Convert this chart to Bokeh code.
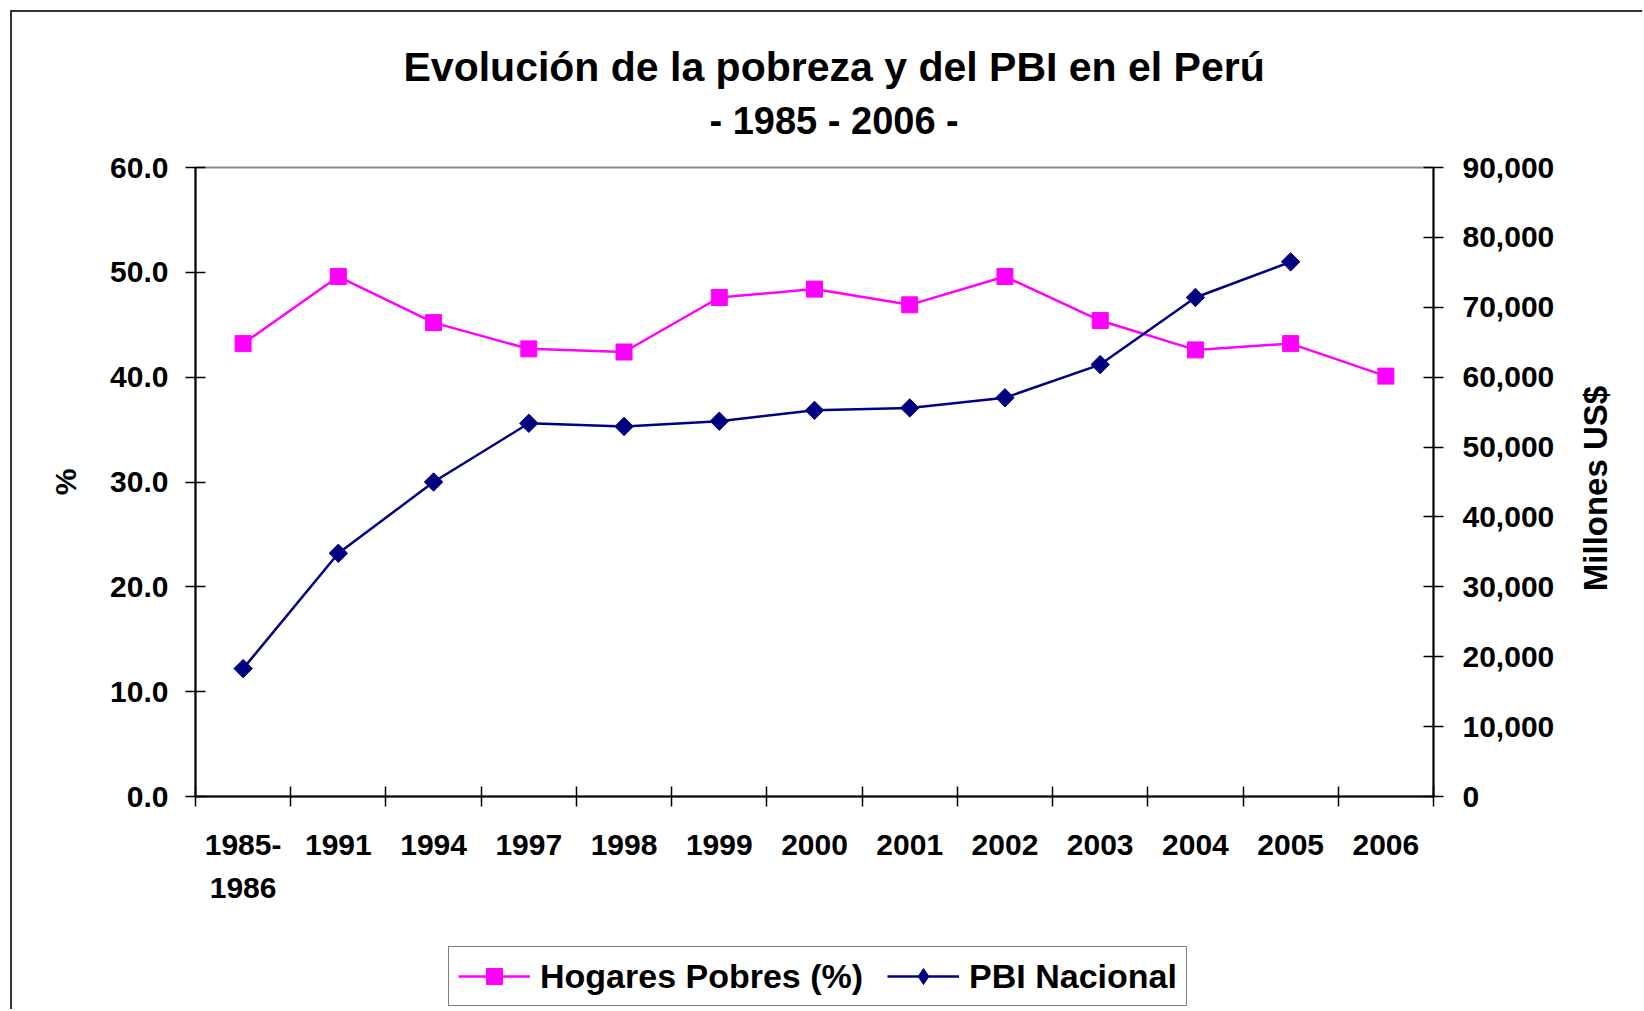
import math
from bokeh.plotting import figure
from bokeh.layouts import column, row
from bokeh.models import (Range1d, LinearAxis, FixedTicker, NumeralTickFormatter,
                          Legend, LegendItem, Title, Label, ColumnDataSource)
from bokeh.embed import file_html
from bokeh.resources import INLINE

# ---- data ----
categories = ["1985-\n1986", "1991", "1994", "1997", "1998", "1999", "2000",
              "2001", "2002", "2003", "2004", "2005", "2006"]
hogares_pobres = [43.2, 49.6, 45.2, 42.7, 42.4, 47.6, 48.4, 46.9, 49.6, 45.4, 42.6, 43.2, 40.1]
pbi_nacional = [18300, 34800, 45000, 53400, 52950, 53700, 55250, 55600, 57050, 61800, 71400, 76500, None]
left_ticks = [0, 10, 20, 30, 40, 50, 60]
right_ticks = [0, 10000, 20000, 30000, 40000, 50000, 60000, 70000, 80000, 90000]
series_names = ["Hogares Pobres (%)", "PBI Nacional"]
right_title = "Millones US$"

FONT = "Liberation Sans"
TICK_SIZE = "30px"
MAGENTA = "#FF00FF"
NAVY = "#000080"
BORDER = "2px solid #333333"

xs = [i + 0.5 for i in range(len(categories))]
src_hp = ColumnDataSource(dict(x=xs, y=hogares_pobres))
pbi_x = [x for x, v in zip(xs, pbi_nacional) if v is not None]
pbi_y = [v for v in pbi_nacional if v is not None]
src_pbi = ColumnDataSource(dict(x=pbi_x, y=pbi_y))

WP, W3, W2 = 1563, 69, 1632
H1, H2 = 923, 76
TOP, BOTTOM, LEFT = 155, H1 - 784, 183

p = figure(width=WP, height=H1, x_range=Range1d(0, len(categories)),
           y_range=Range1d(left_ticks[0], left_ticks[-1]),
           output_backend="svg", toolbar_location=None, title=None,
           x_axis_location=None, y_axis_location=None,
           min_border_left=LEFT, min_border_right=142,
           min_border_top=TOP, min_border_bottom=BOTTOM,
           styles={"margin-left": "10px", "margin-top": "10px",
                   "border-left": BORDER, "border-top": BORDER})
p.extra_y_ranges = {"pbi": Range1d(right_ticks[0], right_ticks[-1])}
p.xgrid.visible = False
p.ygrid.visible = False
p.outline_line_color = "#8c8c8c"
p.outline_line_width = 2
p.background_fill_color = "white"
p.border_fill_color = "white"

# x axis: labels at band centres, ticks at band boundaries
xaxis = LinearAxis(
    ticker=FixedTicker(ticks=xs, minor_ticks=list(range(len(categories) + 1))),
    major_label_overrides={x: c for x, c in zip(xs, categories)},
    major_tick_in=0, major_tick_out=0,
    minor_tick_in=10, minor_tick_out=10,
    minor_tick_line_color="black", minor_tick_line_width=1.5,
    axis_line_color="black", axis_line_width=2,
    major_label_standoff=21,
    major_label_text_font=FONT, major_label_text_font_style="bold",
    major_label_text_font_size=TICK_SIZE, major_label_text_color="black",
    major_label_text_line_height=1.33,
)
p.add_layout(xaxis, "below")

yaxis = LinearAxis(
    ticker=FixedTicker(ticks=left_ticks),
    formatter=NumeralTickFormatter(format="0.0"),
    axis_label="%",
    axis_label_text_font=FONT, axis_label_text_font_style="bold",
    axis_label_text_font_size="30px", axis_label_text_color="black",
    axis_label_standoff=25,
    major_tick_in=10, major_tick_out=10,
    major_tick_line_color="black", major_tick_line_width=1.5,
    minor_tick_line_color=None,
    axis_line_color="black", axis_line_width=2,
    major_label_standoff=17,
    major_label_text_font=FONT, major_label_text_font_style="bold",
    major_label_text_font_size=TICK_SIZE, major_label_text_color="black",
)
p.add_layout(yaxis, "left")

raxis = LinearAxis(
    y_range_name="pbi",
    ticker=FixedTicker(ticks=right_ticks),
    formatter=NumeralTickFormatter(format="0,0"),
    major_tick_in=10, major_tick_out=10,
    major_tick_line_color="black", major_tick_line_width=1.5,
    minor_tick_line_color=None,
    axis_line_color="black", axis_line_width=2,
    major_label_standoff=19,
    major_label_text_font=FONT, major_label_text_font_style="bold",
    major_label_text_font_size=TICK_SIZE, major_label_text_color="black",
)
p.add_layout(raxis, "right")

# titles (subtitle first = nearest to the frame)
p.add_layout(Title(text="- 1985 - 2006 -", align="left", offset=514,
                   text_font=FONT, text_font_style="bold", text_font_size="38px",
                   text_color="black", standoff=51), "above")
p.add_layout(Title(text="Evolución de la pobreza y del PBI en el Perú", align="left",
                   offset=208, text_font=FONT, text_font_style="bold",
                   text_font_size="41px", text_color="black", standoff=-34), "above")

# series
l1 = p.line("x", "y", source=src_hp, line_color=MAGENTA, line_width=2.5)
s1 = p.scatter("x", "y", source=src_hp, marker="square", size=16,
               fill_color=MAGENTA, line_color=MAGENTA)
l2 = p.line("x", "y", source=src_pbi, y_range_name="pbi", line_color=NAVY, line_width=2.5)
s2 = p.scatter("x", "y", source=src_pbi, y_range_name="pbi", marker="square",
               angle=math.pi / 4, size=13, fill_color=NAVY, line_color=NAVY)

# right strip holding the secondary axis title (reads bottom to top)
p3 = figure(width=W3, height=H1, x_range=Range1d(0, 1), y_range=Range1d(0, 1),
            output_backend="svg", toolbar_location=None, title=None,
            x_axis_location=None, y_axis_location=None,
            min_border_left=0, min_border_right=0,
            min_border_top=TOP, min_border_bottom=BOTTOM,
            styles={"margin-top": "10px", "border-top": BORDER})
p3.xgrid.visible = False
p3.ygrid.visible = False
p3.outline_line_color = None
p3.background_fill_color = "white"
p3.border_fill_color = "white"
p3.add_layout(Label(x=22, y=308, x_units="screen", y_units="screen",
                    text=right_title, angle=math.pi / 2,
                    text_align="center", text_baseline="middle",
                    text_font=FONT, text_font_style="bold",
                    text_font_size="33px", text_color="black"))

# legend strip below the chart; same series drawn out of view so only the legend shows
p2 = figure(width=W2, height=H2, x_range=Range1d(-3, -2), y_range=Range1d(0, 1),
            output_backend="svg", toolbar_location=None, title=None,
            x_axis_location=None, y_axis_location=None,
            min_border_left=LEFT, min_border_right=0, min_border_top=0, min_border_bottom=0,
            styles={"margin-left": "10px", "border-left": BORDER})
p2.xgrid.visible = False
p2.ygrid.visible = False
p2.outline_line_color = None
p2.background_fill_color = "white"
p2.border_fill_color = "white"
g1 = p2.line("x", "y", source=src_hp, line_color=MAGENTA, line_width=2.5)
g1m = p2.scatter("x", "y", source=src_hp, marker="square",
                 fill_color=MAGENTA, line_color=MAGENTA)
g2 = p2.line("x", "y", source=src_pbi, line_color=NAVY, line_width=2.5)
g2m = p2.scatter("x", "y", source=src_pbi, marker="diamond",
                 fill_color=NAVY, line_color=NAVY)

legend = Legend(
    items=[LegendItem(label=series_names[0], renderers=[g1, g1m]),
           LegendItem(label=series_names[1], renderers=[g2, g2m])],
    location=(253, 3), orientation="horizontal",
    border_line_color="black", border_line_width=1.5,
    background_fill_color="white", background_fill_alpha=1,
    label_text_font=FONT, label_text_font_style="bold", label_text_font_size="34px",
    label_text_color="black",
    glyph_width=72, glyph_height=40, label_standoff=10, spacing=24,
    padding=9, margin=0,
)
p2.add_layout(legend)

layout = column(row(p, p3, spacing=0), p2, spacing=0)
open("out.html", "w").write(file_html(layout, INLINE))
